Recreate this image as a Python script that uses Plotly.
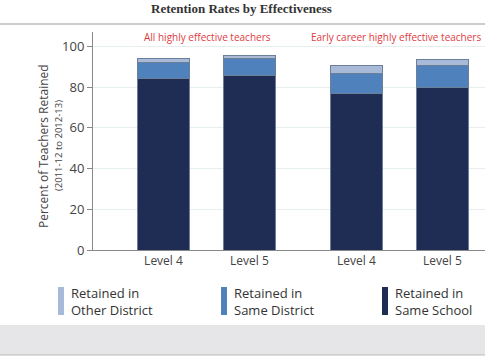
import plotly.graph_objects as go

groups = ["All highly effective teachers", "Early career highly effective teachers"]
levels = ["Level 4", "Level 5"]
same_school = [84, 85.5, 77, 80]
same_district = [8, 8.5, 9.5, 10.5]
other_district = [2, 1.3, 4, 3]
series_names = ["Retained in<br>Same School", "Retained in<br>Same District", "Retained in<br>Other District"]
colors = ["#1f2d54", "#4f81bd", "#a9bad8"]

W, H = 485, 360
L, R, T, B = 93, 0, 32, 110
PW, PH = W - L - R, H - T - B


def px(x):
    return (x - L) / PW


def py(y):
    return (H - B - y) / PH


group_step = 2.245
xs = [g * group_step + i for g in range(len(groups)) for i in range(len(levels))]
labels = [lv for g in groups for lv in levels]

fig = go.Figure()
for vals, name, col in zip([same_school, same_district, other_district], series_names, colors):
    fig.add_trace(go.Bar(x=xs, y=vals, name=name, marker=dict(color=col, line=dict(color="#6b7f99", width=1)),
                         width=0.6, showlegend=False))

fig.update_layout(
    barmode="stack",
    width=W, height=H,
    margin=dict(l=L, r=R, t=T, b=B),
    paper_bgcolor="white", plot_bgcolor="white",
    font=dict(family="Open Sans, Lato, sans-serif", color="#444"),
    xaxis=dict(range=[-0.82, 3.74], tickvals=xs, ticktext=labels, showline=True, linecolor="#888",
               linewidth=1, ticks="", showgrid=False, zeroline=False, tickfont=dict(size=12, color="#444")),
    yaxis=dict(range=[0, 107], tickvals=[0, 20, 40, 60, 80, 100], showline=True, linecolor="#888",
               linewidth=1, ticks="outside", ticklen=5, tickcolor="#888", gridcolor="#e6eef0",
               zeroline=False, tickfont=dict(size=13, color="#444")),
)

# title
fig.add_annotation(text="<b>Retention Rates by Effectiveness</b>", x=px(241), y=py(8), xref="paper", yref="paper",
                   xanchor="center", yanchor="middle", showarrow=False,
                   font=dict(family="Liberation Serif, DejaVu Serif, serif", size=13, color="#333"))
fig.add_shape(type="line", xref="paper", yref="paper", x0=px(0), x1=px(W), y0=py(24), y1=py(24),
              line=dict(color="#bbbbbb", width=1.5))

# group labels
group_label_x = [207, 396]
for gx, name in zip(group_label_x, groups):
    fig.add_annotation(text=name, x=px(gx), y=py(37), xref="paper", yref="paper",
                       yanchor="middle", xanchor="center", showarrow=False,
                       font=dict(size=10, color="#e03a3e", family="Open Sans, sans-serif"))

# y axis title
fig.add_annotation(text="Percent of Teachers Retained", x=px(43), y=py(146), xref="paper", yref="paper",
                   xanchor="center", yanchor="middle",
                   textangle=-90, showarrow=False, font=dict(size=12, color="#444"))
fig.add_annotation(text="(2011-12 to 2012-13)", x=px(58), y=py(146), xref="paper", yref="paper",
                   xanchor="center", yanchor="middle",
                   textangle=-90, showarrow=False, font=dict(size=9.5, color="#444"))

# legend (manual)
legend_order = [2, 1, 0]
legend_x = [58, 221, 382]
for lx, idx in zip(legend_x, legend_order):
    fig.add_shape(type="rect", xref="paper", yref="paper", x0=px(lx), x1=px(lx + 6),
                  y0=py(315), y1=py(287), fillcolor=colors[idx], line=dict(width=0))
    fig.add_annotation(text=series_names[idx], x=px(lx + 11), y=py(301), xref="paper", yref="paper",
                       xanchor="left", yanchor="middle", align="left", showarrow=False,
                       font=dict(size=13, color="#333"))

# gray band at bottom
fig.add_shape(type="rect", xref="paper", yref="paper", x0=px(0), x1=px(W), y0=py(355), y1=py(325),
              fillcolor="#e6e6e8", line=dict(width=0), layer="below")
fig.add_shape(type="line", xref="paper", yref="paper", x0=px(0), x1=px(W), y0=py(355), y1=py(355),
              line=dict(color="#bbbbbb", width=1))

fig.write_html("out.html", config={"displayModeBar": False},
               post_script="document.body.style.margin='0px';document.body.style.overflow='hidden';")
